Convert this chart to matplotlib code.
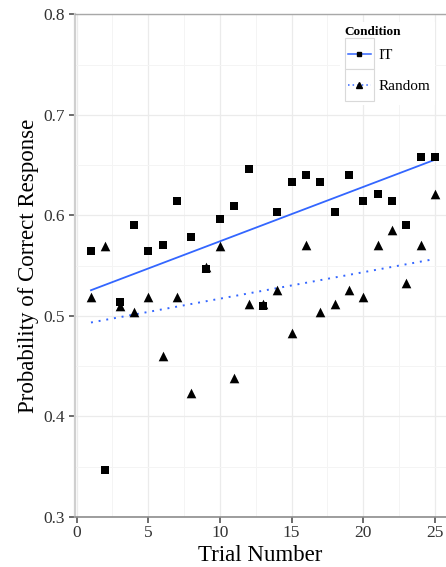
import numpy as np
import matplotlib
matplotlib.use('Agg')
import matplotlib.pyplot as plt
from matplotlib.legend_handler import HandlerBase
from matplotlib.lines import Line2D
from matplotlib.patches import Rectangle

plt.rcParams.update({
    'font.family': 'Liberation Serif',
    'font.size': 12,
})

# data
trials = np.arange(1, 26)
p_it = [0.565, 0.347, 0.514, 0.590, 0.565, 0.571, 0.6145, 0.578, 0.547, 0.596,
        0.609, 0.646, 0.510, 0.603, 0.6335, 0.640, 0.6335, 0.603, 0.640, 0.6145,
        0.621, 0.6145, 0.590, 0.658, 0.658]
p_random = [0.519, 0.570, 0.510, 0.504, 0.519, 0.460, 0.519, 0.4235, 0.549, 0.570,
            0.438, 0.512, 0.512, 0.526, 0.483, 0.5705, 0.504, 0.512, 0.526, 0.519,
            0.5705, 0.585, 0.533, 0.5705, 0.621]
conditions = ['IT', 'Random']

BLUE = '#3366FF'


class KeyHandler(HandlerBase):
    # ggplot-ish legend key: grey box, line, small marker
    def __init__(self, ls, marker, ms):
        super().__init__()
        self.ls = ls
        self.marker = marker
        self.ms = ms

    def create_artists(self, legend, orig_handle, xdescent, ydescent,
                       width, height, fontsize, trans):
        box = Rectangle((-xdescent, -ydescent), width, height, facecolor='white',
                        edgecolor='#d9d9d9', lw=0.8, transform=trans)
        ym = -ydescent + height / 2
        line = Line2D([-xdescent + 2, -xdescent + width - 2], [ym, ym], color=BLUE,
                      lw=1.1, ls=self.ls, transform=trans)
        mk = Line2D([-xdescent + width / 2], [ym], marker=self.marker, ms=self.ms,
                    color='black', ls='none', transform=trans)
        return [box, line, mk]


fig = plt.figure(figsize=(4.46, 5.67), dpi=100)
ax = fig.add_axes([0.168, 0.0882, 0.832, 0.8866])

ax.scatter(trials, p_it, marker='s', s=30, color='black', zorder=3, linewidths=0)
ax.scatter(trials, p_random, marker='^', s=48, color='black', zorder=3, linewidths=0)

# linear fits per condition
xs = np.array([trials.min(), trials.max()])
k1, b1 = np.polyfit(trials, p_it, 1)
k2, b2 = np.polyfit(trials, p_random, 1)
l_it, = ax.plot(xs, k1 * xs + b1, color=BLUE, lw=1.3, zorder=2)
l_rn, = ax.plot(xs, k2 * xs + b2, color=BLUE, lw=1.4, ls=(0, (1, 3)), zorder=2)

ax.set_xlim(-0.12, 25.77)
ax.set_ylim(0.3, 0.8)
ax.set_xticks([0, 5, 10, 15, 20, 25])
ax.set_xticks([2.5, 7.5, 12.5, 17.5, 22.5], minor=True)
ax.set_yticks([0.3, 0.4, 0.5, 0.6, 0.7, 0.8])
ax.set_yticks([0.35, 0.45, 0.55, 0.65, 0.75], minor=True)
ax.set_yticklabels(['0.3', '0.4', '0.5', '0.6', '0.7', '0.8'])
ax.grid(True, which='major', color='#ebebeb', lw=0.9)
ax.grid(True, which='minor', color='#f4f4f4', lw=0.7)
ax.set_axisbelow(True)

ax.tick_params(which='major', direction='out', length=4.5, width=1.1, color='#444444',
               labelsize=12.5, labelcolor='#333333')
ax.tick_params(axis='y', pad=3)
ax.tick_params(axis='x', pad=1)
ax.tick_params(which='minor', length=0)

ax.spines['right'].set_visible(False)
ax.spines['left'].set_color('#cfcfcf')
ax.spines['left'].set_linewidth(1.6)
ax.spines['top'].set_color('#a8a8a8')
ax.spines['top'].set_linewidth(1.0)
ax.spines['bottom'].set_color('#8c8c8c')
ax.spines['bottom'].set_linewidth(1.2)

ax.set_xlabel('Trial Number', fontsize=16.5, labelpad=3)
ax.set_ylabel('Probability of Correct Response', fontsize=16.5, labelpad=3)

leg = ax.legend([l_it, l_rn], conditions, title='Condition',
                handler_map={l_it: KeyHandler('-', 's', 3.2),
                             l_rn: KeyHandler((0, (1, 2)), '^', 3.8)},
                loc='upper left', bbox_to_anchor=(0.715, 0.985),
                frameon=True, fancybox=False, framealpha=1,
                fontsize=11, handlelength=1.9, handleheight=2.75,
                handletextpad=0.3, labelspacing=0, borderpad=0.3,
                borderaxespad=0)
leg.get_frame().set_edgecolor('none')
leg.get_title().set_fontweight('bold')
leg.get_title().set_fontsize(9.5)
leg._legend_box.align = 'left'

fig.savefig('out.png', dpi=100)
